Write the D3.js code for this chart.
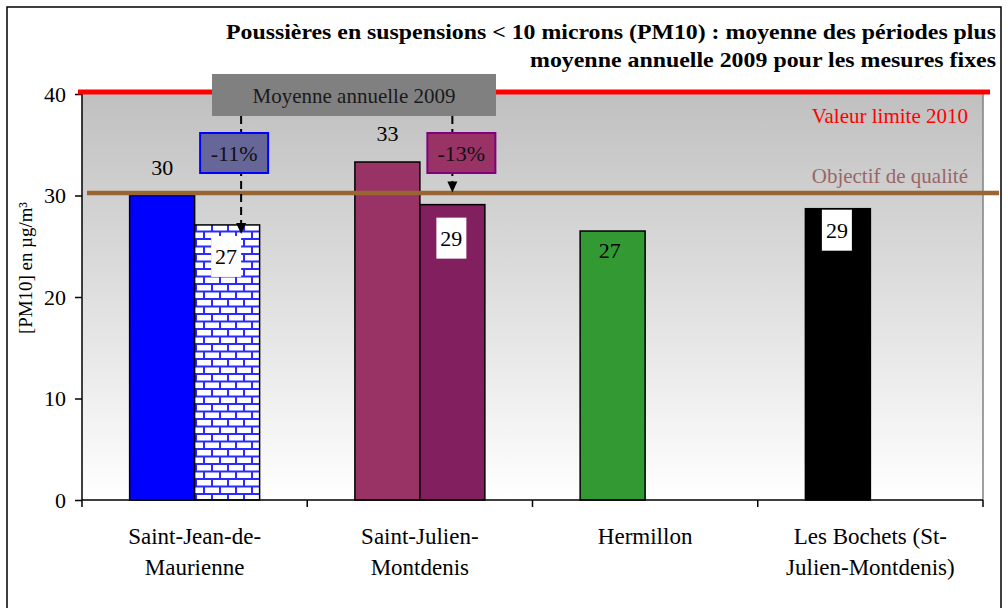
<!DOCTYPE html>
<html>
<head>
<meta charset="utf-8">
<script src="https://cdn.jsdelivr.net/npm/d3@7"></script>
<style>
  body { margin: 0; background: #fff; }
  svg text { font-family: "Liberation Serif", "Times New Roman", serif; }
</style>
</head>
<body>
<div id="chart"></div>
<script>
var categories = ["Saint-Jean-de-\nMaurienne", "Saint-Julien-\nMontdenis", "Hermillon", "Les Bochets (St-\nJulien-Montdenis)"];
var periodValues = [30.0, 33.3, 26.5, 28.7];   // moyenne des périodes
var annualValues = [27.1, 29.1, null, null];   // moyenne annuelle 2009
var periodColors = ["#0000ff", "#993366", "#339933", "#000000"];
var annualColors = ["url(#brick)", "#811f5f", null, null];
var yTicks = [0, 10, 20, 30, 40];
var limitValue = 40, objectiveValue = 30;
var changes = ["-11%", "-13%"];
var titleLines = ["Poussières en suspensions < 10 microns (PM10) : moyenne des périodes plus",
                  "moyenne annuelle 2009 pour les mesures fixes"];

var width = 1007, height = 608;
var pLeft = 82, pRight = 983, pTop = 94, pBottom = 500;

var svg = d3.select("#chart").append("svg")
    .attr("width", width)
    .attr("height", height);

var defs = svg.append("defs");
var grad = defs.append("linearGradient").attr("id", "bg")
    .attr("x1", 0).attr("y1", 0).attr("x2", 0).attr("y2", 1);
grad.append("stop").attr("offset", "0%").attr("stop-color", "#c0c0c0");
grad.append("stop").attr("offset", "100%").attr("stop-color", "#ffffff");

// brick pattern
var pat = defs.append("pattern").attr("id", "brick")
    .attr("patternUnits", "userSpaceOnUse")
    .attr("width", 16).attr("height", 15);
pat.append("rect").attr("width", 16).attr("height", 15).attr("fill", "#fff");
pat.append("rect").attr("y", 5.5).attr("width", 16).attr("height", 2).attr("fill", "#2b2bff");
pat.append("rect").attr("y", 13).attr("width", 16).attr("height", 2).attr("fill", "#2b2bff");
pat.append("rect").attr("x", 3).attr("y", 0).attr("width", 2).attr("height", 6).attr("fill", "#2b2bff");
pat.append("rect").attr("x", 11).attr("y", 7).attr("width", 2).attr("height", 6.5).attr("fill", "#2b2bff");

// outer frame
svg.append("rect")
    .attr("x", 7).attr("y", 7).attr("width", 994).attr("height", 640)
    .attr("fill", "#fff").attr("stroke", "#000").attr("stroke-width", 1.5);

var x = d3.scaleBand().domain(d3.range(categories.length)).range([pLeft, pRight]);
var xs = d3.scaleBand().domain([0, 1]).range([0, x.bandwidth()]).paddingOuter(0.733);
var y = d3.scaleLinear().domain([0, 40]).range([pBottom, pTop]);

// plot background
svg.append("rect")
    .attr("x", pLeft).attr("y", pTop)
    .attr("width", pRight - pLeft).attr("height", pBottom - pTop)
    .attr("fill", "url(#bg)");
svg.append("line")
    .attr("x1", pRight).attr("x2", pRight).attr("y1", pTop).attr("y2", pBottom)
    .attr("stroke", "#808080").attr("stroke-width", 1.5);

// title
svg.selectAll(".title").data(titleLines).enter().append("text")
    .attr("x", 996)
    .attr("y", function (d, i) { return 39 + i * 28; })
    .attr("text-anchor", "end")
    .attr("font-size", 22).attr("font-weight", "bold")
    .attr("textLength", function (d, i) { return i == 0 ? 770 : 466; })
    .attr("lengthAdjust", "spacingAndGlyphs")
    .text(function (d) { return d; });

// bars
var bars = [];
periodValues.forEach(function (v, i) {
    if (v != null) bars.push({cat: i, s: 0, v: v, color: periodColors[i]});
    if (annualValues[i] != null) bars.push({cat: i, s: 1, v: annualValues[i], color: annualColors[i]});
});

svg.selectAll(".bar").data(bars).enter().append("rect")
    .attr("x", function (d) { return x(d.cat) + xs(d.s); })
    .attr("y", function (d) { return y(d.v); })
    .attr("width", xs.bandwidth())
    .attr("height", function (d) { return y(0) - y(d.v); })
    .attr("fill", function (d) { return d.color; })
    .attr("stroke", "#000").attr("stroke-width", 1.5);

// axes
var yAxis = svg.append("g").attr("transform", "translate(" + pLeft + ",0)")
    .call(d3.axisLeft(y).tickValues(yTicks).tickSize(7).tickPadding(9));
yAxis.select(".domain").attr("stroke", "#000").attr("stroke-width", 1.5).attr("d", "M0," + pTop + "V" + pBottom);
yAxis.selectAll(".tick line").attr("stroke", "#000").attr("stroke-width", 1.5);
yAxis.selectAll(".tick text")
    .attr("font-family", "Liberation Serif, serif").attr("font-size", 22).attr("fill", "#000");

var xAxis = svg.append("g");
xAxis.append("line")
    .attr("x1", pLeft).attr("x2", pRight).attr("y1", pBottom).attr("y2", pBottom)
    .attr("stroke", "#000").attr("stroke-width", 1.5);
xAxis.selectAll(".xt").data(d3.range(categories.length + 1)).enter().append("line")
    .attr("x1", function (d) { return pLeft + d * x.step(); })
    .attr("x2", function (d) { return pLeft + d * x.step(); })
    .attr("y1", pBottom).attr("y2", pBottom + 7)
    .attr("stroke", "#000").attr("stroke-width", 1.5);
xAxis.selectAll(".xl").data(categories).enter().append("text")
    .attr("text-anchor", "middle")
    .attr("font-size", 23)
    .each(function (d, i) {
        var t = d3.select(this);
        d.split("\n").forEach(function (line, j) {
            t.append("tspan")
                .attr("x", x(i) + x.bandwidth() / 2)
                .attr("y", 544 + j * 31)
                .text(line);
        });
    });

svg.append("text")
    .attr("transform", "translate(32,268) rotate(-90)")
    .attr("text-anchor", "middle")
    .attr("font-size", 19)
    .attr("textLength", 132).attr("lengthAdjust", "spacingAndGlyphs")
    .text("[PM10] en µg/m³");

// reference lines
svg.append("line")
    .attr("x1", 78).attr("x2", 990)
    .attr("y1", y(limitValue) - 2).attr("y2", y(limitValue) - 2)
    .attr("stroke", "#ff0000").attr("stroke-width", 5);
svg.append("line")
    .attr("x1", 87).attr("x2", 999)
    .attr("y1", y(objectiveValue) - 2.5).attr("y2", y(objectiveValue) - 2.5)
    .attr("stroke", "#996633").attr("stroke-width", 4.5);
svg.append("text")
    .attr("x", 968).attr("y", y(limitValue) + 29)
    .attr("text-anchor", "end").attr("font-size", 21).attr("fill", "#ff0000")
    .text("Valeur limite 2010");
svg.append("text")
    .attr("x", 968).attr("y", y(objectiveValue) - 13)
    .attr("text-anchor", "end").attr("font-size", 21).attr("fill", "#996666")
    .text("Objectif de qualité");

// value labels
var labelMode = {"0-0": "above", "1-0": "above", "2-0": "inside", "3-0": "boxed",
                 "0-1": "boxed", "1-1": "boxed"};
var boxGap = {"3-0": 1, "0-1": 11, "1-1": 13};
bars.forEach(function (d) {
    var key = d.cat + "-" + d.s;
    var cx = x(d.cat) + xs(d.s) + xs.bandwidth() / 2;
    var yt = y(d.v);
    var label = d3.format(".0f")(d.v);
    var mode = labelMode[key];
    if (mode == "above") {
        svg.append("text").attr("x", cx).attr("y", yt - 21)
            .attr("text-anchor", "middle").attr("font-size", 22).text(label);
    } else if (mode == "inside") {
        svg.append("text").attr("x", cx - 3).attr("y", yt + 27)
            .attr("text-anchor", "middle").attr("font-size", 22).text(label);
    } else {
        var by = yt + boxGap[key];
        svg.append("rect").attr("x", cx - 16).attr("y", by).attr("width", 30).attr("height", 41)
            .attr("fill", "#fff");
        svg.append("text").attr("x", cx - 1).attr("y", by + 28)
            .attr("text-anchor", "middle").attr("font-size", 22).text(label);
    }
});

// "Moyenne annuelle 2009" annotation
var boxX = x(0) + 130, boxW = 284;
var arrows = [
    {x: x(0) + xs(1) + xs.bandwidth() / 2 + 14, tip: y(annualValues[0]) + 9, fill: "#666699", stroke: "#0000ff", bx: -41},
    {x: x(1) + xs(1) + xs.bandwidth() / 2, tip: y(objectiveValue) - 3, fill: "#993366", stroke: "#800080", bx: -25}
];
arrows.forEach(function (a) {
    svg.append("line")
        .attr("x1", a.x).attr("x2", a.x).attr("y1", 116).attr("y2", a.tip - 10)
        .attr("stroke", "#000").attr("stroke-width", 2).attr("stroke-dasharray", "8,5");
    svg.append("path")
        .attr("d", "M" + (a.x - 5) + "," + (a.tip - 11) + "L" + (a.x + 5) + "," + (a.tip - 11) + "L" + a.x + "," + a.tip + "Z")
        .attr("fill", "#000");
});
svg.append("rect")
    .attr("x", boxX).attr("y", 74).attr("width", boxW).attr("height", 42)
    .attr("fill", "#808080");
svg.append("text")
    .attr("x", boxX + boxW / 2).attr("y", 103)
    .attr("text-anchor", "middle").attr("font-size", 21).attr("fill", "#1a1a1a")
    .text("Moyenne annuelle 2009");

arrows.forEach(function (a, i) {
    svg.append("rect")
        .attr("x", a.x + a.bx).attr("y", 133).attr("width", 68).attr("height", 40)
        .attr("fill", a.fill).attr("stroke", a.stroke).attr("stroke-width", 2);
    svg.append("text")
        .attr("x", a.x + a.bx + 34).attr("y", 161)
        .attr("text-anchor", "middle").attr("font-size", 22).attr("fill", "#111")
        .text(changes[i]);
});
</script>
</body>
</html>
